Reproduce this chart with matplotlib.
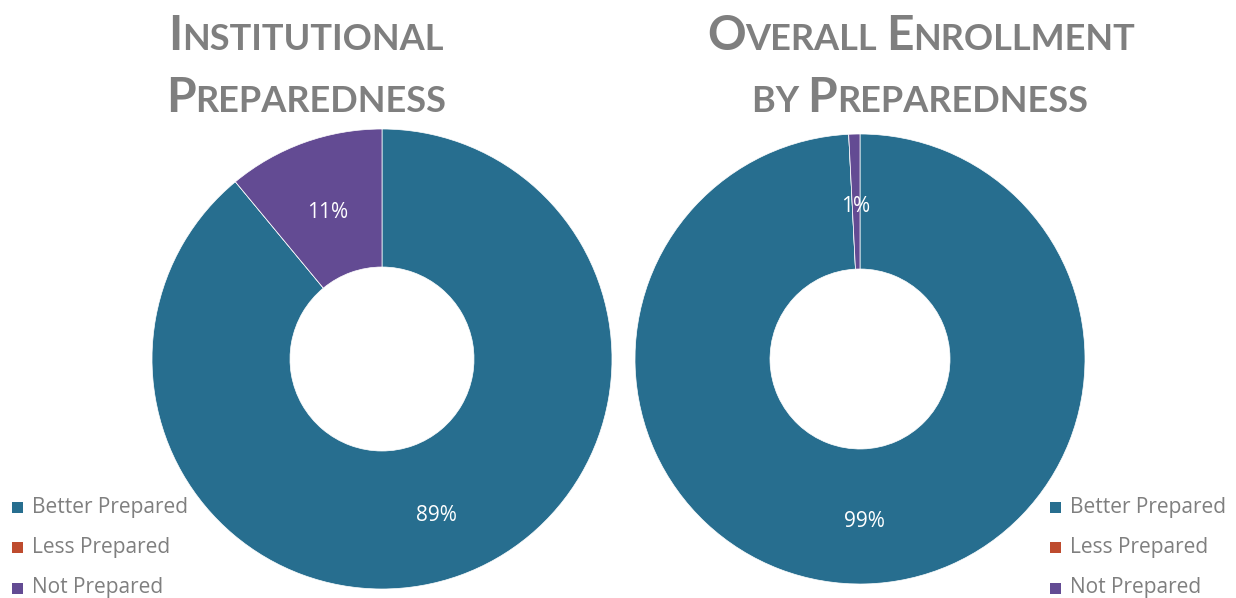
import matplotlib.pyplot as plt
from matplotlib.patches import Rectangle
from matplotlib.transforms import IdentityTransform

categories = ['Better Prepared', 'Less Prepared', 'Not Prepared']
colors = ['#276E8F', '#BE4B2E', '#634B93']
institutional = [89, 0, 11]
enrollment = [99.2, 0, 0.8]
titles = [['Institutional', 'Preparedness'], ['Overall Enrollment', 'by Preparedness']]

W, H = 1236, 598
fig = plt.figure(figsize=(W / 100, H / 100), dpi=100)
ax = fig.add_axes([0, 0, 1, 1])
ax.set_xlim(0, W)
ax.set_ylim(0, H)
ax.set_aspect('equal')
ax.axis('off')

gray = '#7F7F7F'


def pct_label(p):
    return '' if p == 0 else f'{p:.0f}%'


# donuts (pixel coords, y measured from top)
donuts = [(institutional, 382, 359, 230, 92), (enrollment, 860, 359, 225, 90)]
for vals, cx, cy, r, rin in donuts:
    wedges, _, autotexts = ax.pie(
        vals, colors=colors, startangle=90, counterclock=False,
        center=(cx, H - cy), radius=r, autopct=pct_label,
        pctdistance=(r + rin) / 2 / r,
        wedgeprops=dict(width=r - rin, edgecolor='white', linewidth=0.5),
        textprops=dict(color='white', fontsize=15, family='Open Sans'))
    # labels sit slightly lower than the ring middle in the original
    for t in autotexts:
        x, y = t.get_position()
        t.set_position((x, y - 5))
ax.set_xlim(0, W)
ax.set_ylim(0, H)

# titles in small caps
renderer = fig.canvas.get_renderer()


def small_caps(text, xc, ybase, big=34.5, small=26):
    runs = []
    for ch in text:
        size = big if ch.isupper() else small
        if runs and runs[-1][1] == size:
            runs[-1][0] += ch.upper()
        else:
            runs.append([ch.upper(), size])
    objs = []
    total = 0
    for s, size in runs:
        t = fig.text(0, 0, s, fontsize=size, family='Lato', weight='bold',
                     color=gray, transform=IdentityTransform(), va='baseline')
        w = t.get_window_extent(renderer).width
        objs.append((t, w))
        total += w
    x = xc - total / 2
    for t, w in objs:
        t.set_position((x, H - ybase))
        x += w


small_caps(titles[0][0], 306, 50)
small_caps(titles[0][1], 306, 112)
small_caps(titles[1][0], 921, 50)
small_caps(titles[1][1], 920, 112)

# legends
for lx in [12, 1050]:
    for i, (cat, col) in enumerate(zip(categories, colors)):
        y = 507 + i * 40.5
        ax.add_patch(Rectangle((lx, H - y - 5.5), 11, 11, color=col, lw=0))
        ax.text(lx + 20, H - y, cat, color=gray, fontsize=15, family='Open Sans',
                va='center', ha='left')

fig.savefig('out.png', dpi=100)
